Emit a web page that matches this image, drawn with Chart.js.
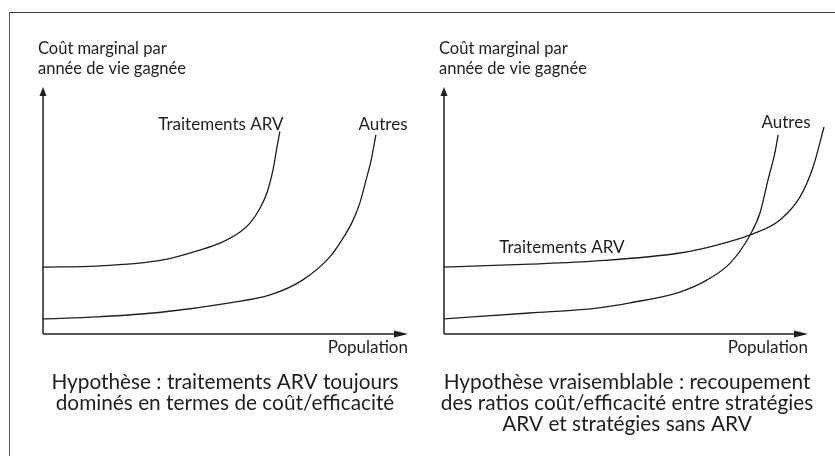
<!DOCTYPE html>
<html>
<head>
<meta charset="utf-8">
<script src="https://cdn.jsdelivr.net/npm/chart.js@4/dist/chart.umd.min.js"></script>
<style>
  html, body { margin: 0; padding: 0; background: #fff; }
  body { width: 835px; height: 456px; position: relative; overflow: hidden; }
  #frame { position: absolute; left: 9px; top: 12px; width: 840px; height: 460px;
           border-top: 1.5px solid #3a3a3a; border-left: 1.5px solid #555; }
  .wrap { position: absolute; top: 0; height: 456px; }
  #w1 { left: 0; width: 420px; }
  #w2 { left: 420px; width: 415px; }
</style>
</head>
<body>
<div id="frame"></div>
<div class="wrap" id="w1"><canvas id="c1"></canvas></div>
<div class="wrap" id="w2"><canvas id="c2"></canvas></div>
<script>
// ---- Data (x: population, y: marginal cost per life-year gained; arbitrary units, axis tips = 100) ----
const leftArvX    = [0, 14.8, 32.9, 43.0, 48.5, 54.0, 56.7, 59.45, 61.45, 63.1, 64.2, 64.9];
const leftArvY    = [27.1, 27.5, 30.0, 34.0, 36.8, 41.3, 44.9, 50.9, 57.6, 67.1, 76.5, 81.9];
const leftOtherX  = [0, 14.8, 32.9, 51.2, 62.2, 71.2, 78.6, 81.9, 84.7, 86.8, 88.5, 89.9, 91.2];
const leftOtherY  = [6.1, 6.9, 8.9, 12.6, 15.8, 21.9, 31.2, 38.1, 45.3, 53.0, 62.3, 70.4, 80.6];

const rightArvX   = [0, 23.6, 42.0, 64.8, 73.9, 84.1, 92.3, 97.8, 101.4, 104.4];
const rightArvY   = [27.1, 28.3, 29.6, 32.8, 35.6, 40.1, 46.2, 55.5, 67.6, 83.8];
const rightOtherX = [0, 23.6, 42.0, 51.1, 64.8, 72.3, 78.6, 84.1, 86.8, 89.0, 90.9, 91.8];
const rightOtherY = [6.1, 8.5, 10.5, 12.6, 17.0, 21.9, 28.7, 40.1, 49.0, 62.3, 73.3, 80.6];

const yTitle = ["Coût marginal par", "année de vie gagnée"];
const xTitle = "Population";
const seriesNames = ["Traitements ARV", "Autres"];
const leftCaption = ["Hypothèse : traitements ARV toujours", "dominés en termes de coût/efficacité"];
const rightCaption = ["Hypothèse vraisemblable : recoupement", "des ratios coût/efficacité entre stratégies", "ARV et stratégies sans ARV"];

const FONT = "Lato, 'Open Sans', sans-serif";
const INK = "#1e1e1e";

function pts(xs, ys) { return xs.map((x, i) => ({ x: x, y: ys[i] })); }

function ds(label, xs, ys) {
  return {
    label: label, data: pts(xs, ys), showLine: true, pointRadius: 0,
    borderColor: INK, borderWidth: 1.3, cubicInterpolationMode: 'monotone', fill: false
  };
}

// plugin: arrows, axis titles, labels and captions (positions derived from the scales)
function annotPlugin(cfg) {
  return {
    id: 'annot',
    afterDatasetsDraw(chart) {
      const ctx = chart.ctx;
      const xs = chart.scales.x, ys = chart.scales.y;
      const x0 = xs.getPixelForValue(0), y0 = ys.getPixelForValue(0);
      const xTip = xs.getPixelForValue(100), yTip = ys.getPixelForValue(100);
      const off = cfg.offset;
      ctx.save();
      ctx.strokeStyle = INK; ctx.fillStyle = INK; ctx.lineWidth = 1.5;
      // y axis
      ctx.beginPath(); ctx.moveTo(x0, y0); ctx.lineTo(x0, yTip + 8); ctx.stroke();
      ctx.beginPath(); ctx.moveTo(x0, yTip); ctx.lineTo(x0 - 3.5, yTip + 9); ctx.lineTo(x0 + 3.5, yTip + 9); ctx.closePath(); ctx.fill();
      // x axis
      ctx.beginPath(); ctx.moveTo(x0, y0); ctx.lineTo(xTip - 12, y0); ctx.stroke();
      ctx.beginPath(); ctx.moveTo(xTip, y0); ctx.lineTo(xTip - 14, y0 - 3.5); ctx.lineTo(xTip - 14, y0 + 3.5); ctx.closePath(); ctx.fill();

      ctx.textBaseline = 'middle';
      // y title
      ctx.font = "16.5px " + FONT; ctx.textAlign = 'left';
      ctx.fillText(yTitle[0], x0 - 5, 49);
      ctx.fillText(yTitle[1], x0 - 5, 69);
      // x title
      ctx.font = "17px " + FONT; ctx.textAlign = 'right';
      ctx.fillText(xTitle, xTip, 348);
      // series labels
      ctx.textAlign = 'center';
      cfg.labels.forEach(l => ctx.fillText(l.text, l.cx - off, l.cy));
      // caption
      ctx.font = "20.8px " + FONT; ctx.textAlign = 'center';
      cfg.caption.forEach((t, i) => ctx.fillText(t, cfg.capX - off, 382 + i * 21));
      ctx.restore();
    }
  };
}

function makeChart(id, datasets, xmax, padding, cfg) {
  return new Chart(document.getElementById(id), {
    type: 'scatter',
    data: { datasets: datasets },
    options: {
      responsive: true, maintainAspectRatio: false, animation: false,
      layout: { padding: padding },
      plugins: { legend: { display: false }, tooltip: { enabled: false } },
      scales: {
        x: { type: 'linear', min: 0, max: xmax, display: false },
        y: { type: 'linear', min: 0, max: 100, display: false }
      }
    },
    plugins: [annotPlugin(cfg)]
  });
}

// left chart: origin at (43,334), x tip at 408, y tip at 87
makeChart('c1', [ds(seriesNames[0], leftArvX, leftArvY), ds(seriesNames[1], leftOtherX, leftOtherY)],
  100, { left: 43, right: 12, top: 87, bottom: 122 },
  { offset: 0, labels: [{ text: seriesNames[0], cx: 221, cy: 125 }, { text: seriesNames[1], cx: 383, cy: 125 }],
    caption: leftCaption, capX: 225 });

// right chart: origin at (444,334), x tip at 808
makeChart('c2', [ds(seriesNames[0], rightArvX, rightArvY), ds(seriesNames[1], rightOtherX, rightOtherY)],
  106, { left: 24, right: 415 - 24 - 364 * 1.06, top: 87, bottom: 122 },
  { offset: 420, labels: [{ text: seriesNames[0], cx: 562, cy: 248 }, { text: seriesNames[1], cx: 786, cy: 123 }],
    caption: rightCaption, capX: 627 });
</script>
</body>
</html>
